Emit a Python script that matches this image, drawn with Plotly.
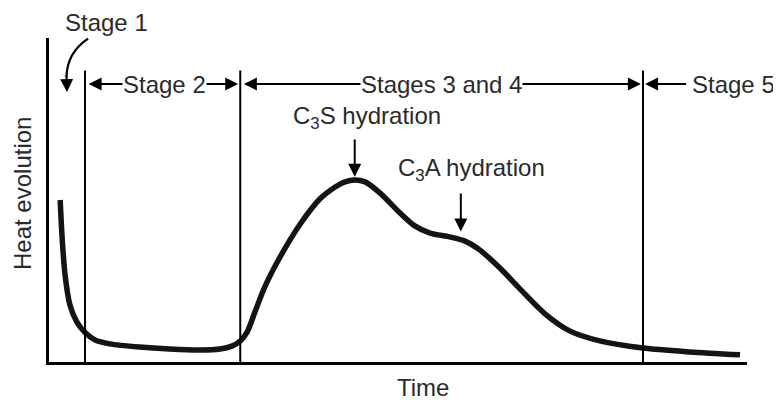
import plotly.graph_objects as go

# Heat evolution curve (time and heat in arbitrary 0-100 units)
time = [1.6, 1.9, 2.3, 3.0, 4.0, 5.2, 6.6, 8.7, 13.0, 17.3, 21.6, 24.5, 26.2,
        27.4, 28.4, 29.5, 30.9, 33.1, 36.0, 38.8, 41.0, 42.4, 43.8, 45.3,
        47.4, 50.3, 52.4, 54.6, 57.4, 59.6, 61.7, 64.6, 67.5, 71.1, 74.6,
        78.9, 85.1, 91.8, 99.0]
heat = [50.0, 37.7, 26.9, 17.6, 12.3, 9.0, 6.8, 5.6, 4.6, 4.0, 3.7, 4.0, 4.9,
        6.5, 9.3, 15.4, 23.1, 32.4, 42.6, 50.3, 54.0, 55.6, 56.2, 55.6,
        52.2, 46.0, 42.0, 39.8, 38.6, 37.3, 34.6, 29.0, 22.5, 14.8, 9.6,
        6.5, 4.3, 3.1, 2.2]

# stage boundaries along the time axis
boundaries = [5.16, 27.4, 85.1]
boundary_top = 90

stage_labels = ['Stage 2', 'Stages 3 and 4', 'Stage 5']
stage_label_x = [16.5, 56.3, 98.1]
stage_y = 85.8

TEXT = '#2a2a2a'
FONT = dict(family='Liberation Sans, Arial, sans-serif', size=24, color=TEXT)

fig = go.Figure()

fig.add_trace(go.Scatter(
    x=time, y=heat, mode='lines',
    line=dict(color='#141414', width=5.5, shape='spline', smoothing=0.8),
    hoverinfo='skip', showlegend=False
))

# vertical stage boundary lines
for b in boundaries:
    fig.add_shape(type='line', x0=b, x1=b, y0=0, y1=boundary_top,
                  xref='x', yref='y', line=dict(color='black', width=2))

annotations = []

def arrow(x0, y0, x1, y1, both=False):
    annotations.append(dict(
        x=x1, y=y1, ax=x0, ay=y0, xref='x', yref='y', axref='x', ayref='y',
        text='', showarrow=True, arrowhead=2, arrowsize=1.3, arrowwidth=2,
        arrowcolor='black', arrowside='end+start' if both else 'end',
        standoff=0, startstandoff=0
    ))

def label(text, x, y, ref='x', angle=0, bg=None):
    annotations.append(dict(
        x=x, y=y, xref=ref, yref='y' if ref == 'x' else 'paper',
        text=text, showarrow=False, font=FONT, textangle=angle,
        xanchor='center', yanchor='middle',
        bgcolor=bg or 'rgba(0,0,0,0)', borderpad=0
    ))

# horizontal stage arrows
arrow(boundaries[0] + 0.3, stage_y, boundaries[1] - 0.3, stage_y, both=True)
arrow(boundaries[1] + 0.3, stage_y, boundaries[2] - 0.3, stage_y, both=True)
arrow(91.5, stage_y, boundaries[2] + 0.3, stage_y)

for name, lx in zip(stage_labels, stage_label_x):
    label(name, lx, stage_y, bg='white')

# Stage 1 label with curved arrow
label('Stage 1', 0.0817, 1.0463, ref='paper')
fig.add_shape(type='path', path='M 5.6,99.8 Q 2.6,95.5 2.5,88',
              xref='x', yref='y', line=dict(color='black', width=2.2))
arrow(2.5, 89, 2.58, 83.3)

# hydration labels
label('C<sub>3</sub>S hydration', 45.6, 75.6)
arrow(43.8, 69.1, 43.8, 57.2)
label('C<sub>3</sub>A hydration', 60.6, 59.3)
arrow(59.0, 52.5, 59.0, 40.3)

# axis titles
label('Time', 0.536, -0.080, ref='paper')
label('Heat evolution', -0.0387, 0.5216, ref='paper', angle=-90)

# page body adds an 8px offset, so the figure is sized to fit the window
fig.update_layout(
    width=773, height=393,
    margin=dict(l=41, r=34, t=30, b=39),
    plot_bgcolor='white', paper_bgcolor='white',
    xaxis=dict(range=[0, 100], showgrid=False, zeroline=False,
               showticklabels=False, ticks='', showline=True,
               linecolor='black', linewidth=2.5),
    yaxis=dict(range=[0, 100], showgrid=False, zeroline=False,
               showticklabels=False, ticks='', showline=True,
               linecolor='black', linewidth=2.5),
    annotations=annotations,
    showlegend=False
)

fig.write_html("out.html")
